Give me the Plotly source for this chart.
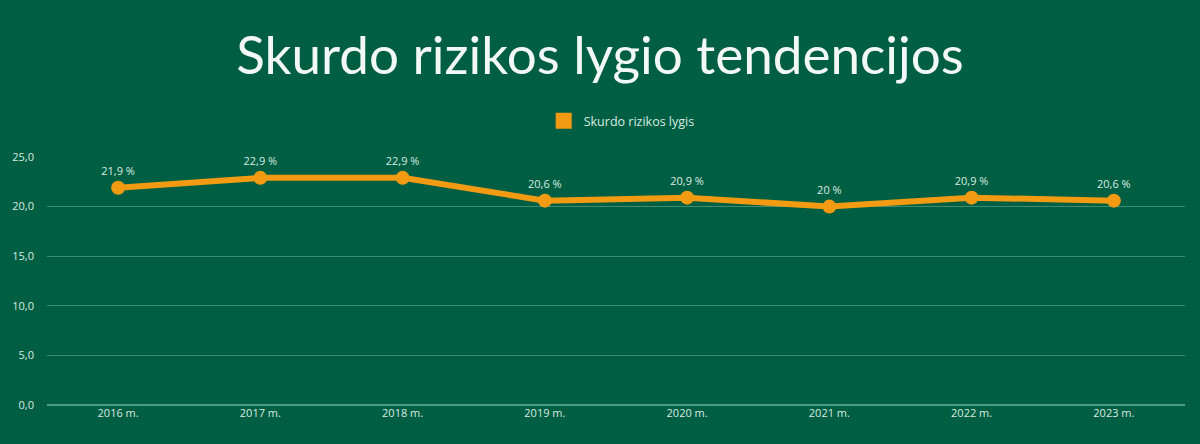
import plotly.graph_objects as go

years = ['2016 m.', '2017 m.', '2018 m.', '2019 m.', '2020 m.', '2021 m.', '2022 m.', '2023 m.']
rate = [21.9, 22.9, 22.9, 20.6, 20.9, 20.0, 20.9, 20.6]
rate_labels = ['21,9 %', '22,9 %', '22,9 %', '20,6 %', '20,9 %', '20 %', '20,9 %', '20,6 %']
y_ticks = [0, 5, 10, 15, 20, 25]
y_tick_labels = ['0,0', '5,0', '10,0', '15,0', '20,0', '25,0']

BG = '#005E42'
ORANGE = '#F29B12'
TXT = '#D8ECE3'
GRID = '#3C8C72'

fig = go.Figure()
fig.add_trace(go.Scatter(
    x=years, y=rate,
    mode='lines+markers+text',
    text=rate_labels,
    textposition='top center',
    textfont=dict(size=11, color=TXT),
    line=dict(color=ORANGE, width=6),
    marker=dict(color=ORANGE, size=14),
    showlegend=False,
    cliponaxis=False,
))
# legend entry only (square swatch)
fig.add_trace(go.Scatter(
    x=[None], y=[None], mode='markers',
    marker=dict(color=ORANGE, size=16, symbol='square'),
    name='Skurdo rizikos lygis',
))

fig.update_layout(
    width=1200, height=444,
    paper_bgcolor=BG, plot_bgcolor=BG,
    font=dict(family='Open Sans', color=TXT),
    title=dict(text='Skurdo rizikos lygio tendencijos', x=0.5, xanchor='center',
               y=0.875, yanchor='middle',
               font=dict(size=53, color='#F2F8F5', family='Lato')),
    legend=dict(orientation='h', x=0.505, xanchor='center', y=1.145, yanchor='middle',
                font=dict(size=12.5, color=TXT), bgcolor='rgba(0,0,0,0)'),
    margin=dict(l=42, r=15, t=157, b=39),
)
fig.update_xaxes(range=[-0.5, len(years) - 0.5], showgrid=False, showline=False,
                 zeroline=False, ticks='', tickfont=dict(size=11, color=TXT))
fig.update_yaxes(range=[0, 25], tickvals=y_ticks, ticktext=y_tick_labels,
                 showgrid=True, gridcolor=GRID, gridwidth=1,
                 zeroline=True, zerolinecolor='#4E9C82', zerolinewidth=2,
                 ticks='', ticklabelstandoff=12, tickfont=dict(size=11, color=TXT))

fig.write_html('out.html', config={'displayModeBar': False},
               post_script="document.body.style.margin='0';")
